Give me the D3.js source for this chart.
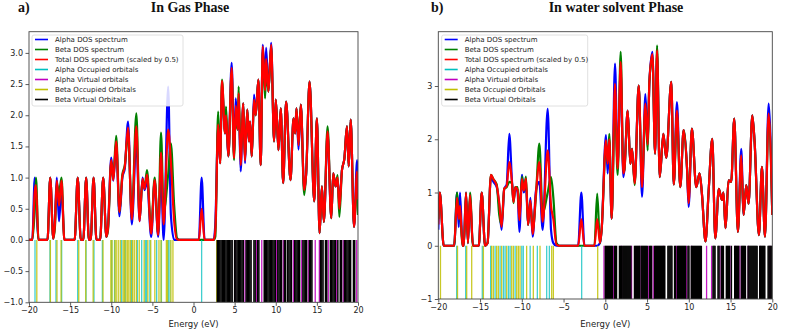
<!DOCTYPE html>
<html><head><meta charset="utf-8">
<script src="https://cdn.jsdelivr.net/npm/d3@7"></script>
<style>body{margin:0;background:#fff}svg{display:block}</style>
</head><body>
<svg id="c" width="789" height="332"></svg>
<script>
// ---------- Panel a) In Gas Phase ----------
const energyA = [-20,-19.6,-19.3,-19.15,-18.85,-17.75,-17.42,-17.05,-16.85,-16.62,-16.35,-16.05,-15.7,-14.45,-14.08,-13.7,-13.4,-13.05,-12.72,-12.5,-12.15,-11.8,-11.35,-10.98,-10.6,-10.4,-10.0,-9.75,-9.4,-9.0,-8.65,-8.35,-7.96,-7.5,-6.95,-6.55,-6.2,-5.95,-5.65,-5.15,-4.72,-4.3,-3.95,-3.63,-3.08,-2.75,-2.35,-2.0,-1.7,0.65,0.99,1.35,2.45,2.65,3.0,3.24,3.46,3.83,3.95,4.24,4.64,4.93,5.13,5.37,5.49,5.73,6.05,6.26,6.54,6.75,6.87,7.08,7.36,7.56,7.89,8.17,8.42,8.7,8.83,9.11,9.44,9.8,10.01,10.33,10.61,10.9,11.26,11.79,12.16,12.36,12.52,12.77,13.05,13.46,13.7,14.11,14.68,15.0,15.33,15.61,15.85,16.3,16.75,16.99,17.28,17.52,17.73,18.05,18.34,18.66,18.87,19.11,19.52,19.89,20.0];
const alphaA = [0,0,1.0,0.7,0,0,1,0.02,0.3,1.0,0.3,0.85,0,0,1,0,0,1,0,0,1,0,0,1,0.05,0.2,1.32,0.95,1.55,0.38,1.0,1.15,1.9,0.25,1.6,0.3,1.0,0.8,0.95,0.05,0.95,0.05,1.05,0.0,2.46,0.4,0.0,0,0,0,1.0,0,0,0.25,1.82,1.23,2.5,1.71,1.9,1.34,2.84,1.35,2.27,1.77,2.25,1.1,2.19,1.23,2.09,1.58,1.9,1.34,2.33,2.0,2.57,1.2,3.13,2.5,3.08,2.38,3.16,1.58,2.25,1.44,2.11,0.91,2.22,0.96,1.95,1.71,2.11,1.45,2.17,0.8,1.07,2.54,0.62,1.95,0.11,0.86,0.29,1.7,0.35,1.07,0.86,0.95,0.6,1.12,1.3,1.82,1.18,1.93,0.21,1.28,0.9];
const betaA = [0,0,0.5,1.0,0,0,1,0.02,0.2,0.9,0.75,1.0,0,0,1,0,0,1,0,0,1,0,0,1,0.05,0.15,1.25,1.0,1.67,0.45,1.05,1.2,1.72,0.4,2.03,0.35,0.95,0.85,1.12,0.15,1.0,0.1,1.72,0.45,1.05,1.55,0.55,0.03,0,0,0,0,0,0.05,2.06,1.23,2.57,1.71,2.14,1.34,2.7,1.28,2.0,1.77,2.46,1.3,2.19,1.3,2.09,1.58,1.9,1.34,2.2,2.0,2.57,1.2,3.05,2.27,2.75,2.38,3.1,1.58,2.25,1.44,2.11,0.91,2.22,0.96,1.95,1.71,2.11,1.58,2.17,0.72,1.07,2.54,0.62,1.95,0.11,0.86,0.29,1.82,0.35,1.07,0.86,1.04,0.37,1.12,1.3,1.82,1.18,1.93,0.21,1.0,0.4];
const totalA = [0,0,0.78,0.88,0,0,1,0.02,0.25,0.95,0.55,0.95,0,0,1,0,0,1,0,0,1,0,0,1,0.05,0.18,1.28,0.96,1.58,0.45,1.02,1.18,1.8,0.33,1.82,0.3,0.98,0.82,1.05,0.1,0.96,0.08,1.4,0.25,1.77,1.25,0.3,0.01,0,0,0.5,0,0,0.15,1.85,1.23,2.55,1.71,2.0,1.34,2.76,1.31,2.15,1.77,2.35,1.2,2.19,1.27,2.09,1.58,1.9,1.34,2.25,2.0,2.57,1.2,3.1,2.4,2.9,2.38,3.13,1.58,2.25,1.44,2.11,0.91,2.22,0.96,1.95,1.71,2.11,1.52,2.17,0.8,1.07,2.54,0.62,1.95,0.11,0.86,0.29,1.74,0.35,1.07,0.86,1.0,0.5,1.12,1.3,1.82,1.18,1.93,0.21,1.1,0.65];
const alphaOccA = [-19.27,-17.45,-16.72,-16.03,-14.08,-13.07,-12.1,-11.08,-9.95,-9.6,-8.73,-8.3,-7.52,-6.83,-6.3,-5.86,-5.7,-5.3,-4.48,-3.9,-3.06,-2.86,0.99];
const betaOccA = [-19.05,-17.4,-16.6,-16.1,-13.95,-13.1,-12.2,-11.0,-10.05,-9.9,-9.55,-9.4,-9.15,-8.9,-8.55,-8.4,-8.2,-8.0,-7.85,-7.65,-7.4,-7.2,-6.95,-6.6,-6.0,-5.55,-5.2,-4.7,-4.2,-3.95,-3.3,-3.15,-2.75,-2.5,2.82];
const alphaVirA = [3.0,5.05,6.26,7.68,8.3,8.69,10.11,10.92,12.14,13.15,13.96,14.8,15.3,16.39,17.41,18.21,19.84];
const betaVirA = [2.9,3.05,3.2,3.35,3.5,3.65,3.8,3.95,4.1,4.25,4.4,4.55,4.7,5.0,5.15,5.3,5.45,5.6,5.75,5.9,6.05,6.4,6.55,6.7,6.85,7.0,7.35,7.5,7.8,7.95,8.6,8.75,8.9,9.05,9.2,9.35,9.5,9.65,9.8,9.95,10.25,10.4,10.55,10.7,11.05,11.2,11.45,11.6,11.75,11.9,12.3,12.45,12.6,12.75,12.9,13.3,13.45,13.6,13.75,14.1,14.25,14.4,15.45,15.6,15.75,16.05,16.2,16.65,16.8,16.95,17.1,17.25,17.55,17.85,18.0,18.35,18.5,18.65,18.8,18.95,19.1,19.45,19.6];
const yTicksA = [-1.0,-0.5,0.0,0.5,1.0,1.5,2.0,2.5,3.0];

// ---------- Panel b) In water solvent Phase ----------
const energyB = [-20,-19.82,-19.35,-18.1,-17.75,-17.55,-17.4,-17.1,-16.95,-16.68,-16.45,-16.2,-15.85,-15.15,-14.8,-14.4,-14.1,-13.7,-13.4,-13.0,-12.7,-12.42,-12.1,-11.81,-11.5,-11.17,-11.0,-10.77,-10.5,-10.29,-9.97,-9.77,-9.5,-9.25,-8.97,-8.7,-8.3,-7.9,-7.5,-6.9,-6.5,-6.22,-5.85,-5.5,-3.25,-2.87,-2.5,-1.3,-0.97,-0.64,-0.44,0.08,0.28,0.48,0.76,1.16,1.48,1.84,2.16,2.28,2.68,3.0,3.2,3.52,4.0,4.4,4.8,5.08,5.28,5.64,5.96,6.2,6.52,6.95,7.3,7.9,8.2,8.58,8.98,9.38,9.78,9.98,10.37,10.89,11.29,11.57,12.0,12.37,12.81,13.17,13.6,13.96,14.15,14.4,14.76,15.08,15.44,15.88,16.28,16.56,16.88,17.16,17.6,17.88,18.4,18.76,19.12,19.56,20.0];
const alphaB = [0.3,1,0,0,1.0,0.35,1.0,0,0,1,0.05,0.9,0,0,1,0,0.05,1.3,1.2,1.1,0.75,0.3,1.07,1.15,2.1,1.2,0.85,1.1,1.0,0.26,1.33,1.0,1.15,0.39,0.9,0.17,1.04,1.2,0.3,2.57,0.3,0.05,0,0,0,1.0,0,0,0,0.05,0.3,2.08,1.36,1.95,0.51,3.42,1.54,3.3,1.29,1.42,2.54,1.54,1.82,1.2,3.01,0.92,2.85,1.95,3.08,3.64,1.73,3.6,1.29,2.1,1.65,3.08,1.15,2.7,1.1,2.17,1.48,0.73,2.2,1.1,1.36,0.98,0.08,1.01,2.01,0.14,1.07,0.86,1.0,0.33,1.23,1.2,2.39,0.26,1.82,0.58,1.14,0.79,2.45,1.95,0.2,1.48,0.17,2.67,0.58];
const betaB = [0.5,1,0,0,1.0,0.6,0.6,0,0,1,0.05,1.0,0,0,1,0,0.05,1.33,1.25,1.15,0.58,0.4,1.07,1.1,1.2,1.17,0.8,1.1,1.1,0.6,1.3,1.04,1.3,0.39,0.8,0.3,0.95,1.92,0.6,1.0,1.29,0.9,0.05,0,0,0,0,0,0.98,0.05,0.3,1.9,1.6,2.1,0.51,2.7,1.33,3.64,1.4,1.42,2.54,1.54,1.82,1.14,3.01,1.2,2.55,1.79,3.08,3.55,1.73,3.76,1.29,2.1,1.65,3.08,1.15,2.45,1.1,2.17,1.48,0.9,2.2,1.1,1.36,0.98,0.08,1.01,2.01,0.14,1.07,0.86,1.0,0.33,1.23,1.2,2.39,0.26,1.6,0.58,1.14,0.79,2.45,1.95,0.2,1.48,0.17,2.4,0.58];
const totalB = [0.4,1,0,0,0.9,0.5,0.75,0,0,1,0.05,0.95,0,0,1,0,0.05,1.33,1.25,1.12,0.8,0.36,1.07,1.12,1.57,1.17,0.82,1.1,1.04,0.48,1.25,1.04,1.26,0.39,0.85,0.22,1.0,1.57,0.45,1.79,0.75,0.5,0.02,0,0,0.5,0,0,0.5,0.05,0.3,1.98,1.54,2.0,0.51,3.04,1.45,3.45,1.36,1.42,2.54,1.54,1.82,1.17,3.01,1.1,2.67,1.9,3.08,3.6,1.73,3.67,1.29,2.1,1.65,3.08,1.15,2.54,1.1,2.17,1.48,0.8,2.2,1.1,1.36,0.98,0.08,1.01,2.01,0.14,1.07,0.86,1.0,0.33,1.23,1.2,2.39,0.26,1.7,0.58,1.14,0.79,2.45,1.95,0.2,1.48,0.17,2.48,0.58];
const alphaOccB = [-17.8,-16.72,-14.73,-13.73,-13.2,-12.6,-12.2,-12.0,-11.6,-11.4,-10.8,-10.0,-9.82,-9.0,-8.14,-7.02,-6.7,-2.83];
const betaOccB = [-19.74,-17.7,-16.6,-16.0,-14.6,-13.61,-13.41,-13.01,-12.81,-12.41,-11.81,-11.21,-11.01,-10.61,-10.41,-10.21,-9.42,-8.62,-7.82,-6.42,-6.22,-0.91];
const alphaVirB = [-0.16,0.96,1.96,3.15,4.15,5.15,5.74,6.94,8.54,9.73,10.33,12.13,12.73,13.73,14.93,15.52,16.12,17.12,18.52,19.72];
const betaVirB = [0.0,0.12,0.24,0.36,0.48,0.6,0.72,0.84,1.1,1.22,1.34,1.7,1.82,1.94,2.1,2.22,2.34,2.46,2.58,2.7,2.82,2.94,3.06,3.5,3.62,3.74,3.86,3.98,4.1,4.3,4.42,4.54,4.66,4.78,4.9,5.02,5.3,5.42,5.54,5.9,6.02,6.14,6.26,6.38,6.5,6.62,6.74,6.86,7.0,7.12,7.5,7.62,7.74,7.86,7.98,8.3,8.42,8.66,8.78,8.9,9.02,9.14,9.26,9.38,9.5,9.62,9.9,10.02,10.3,10.42,10.54,10.66,10.78,10.9,11.02,11.14,11.26,11.38,11.5,12.9,13.02,13.14,13.5,13.62,13.9,14.02,14.14,14.5,14.62,14.74,14.86,15.1,15.5,15.62,15.74,15.86,15.98,16.3,16.42,16.54,16.66,16.78,17.1,17.22,17.34,17.46,17.58,17.7,17.82,17.94,18.06,18.18,18.5,18.62,18.74,18.86,18.98,19.1,19.5,19.62,19.74,19.86,19.98];
const yTicksB = [-1,0,1,2,3];

const xTicks = [-20,-15,-10,-5,0,5,10,15,20];
const legendLabels = ["Alpha DOS spectrum","Beta DOS spectrum","Total DOS spectrum (scaled by 0.5)","Alpha Occupied orbitals","Alpha Virtual orbitals","Beta Occupied Orbitals","Beta Virtual Orbitals"];
const legendColors = ["#0000ff","#008000","#ff0000","#00bfbf","#bf00bf","#bfbf00","#000000"];

const svg = d3.select("#c");
const FONT = "DejaVu Sans, sans-serif";

function panel(o){
  const x = d3.scaleLinear().domain([-20,20]).range([o.left,o.right]);
  const y = d3.scaleLinear().domain([-1,o.ymax]).range([o.bottom,o.top]);
  const g = svg.append("g");
  const cid = "clip"+o.id;
  g.append("clipPath").attr("id",cid).append("rect")
    .attr("x",o.left).attr("y",o.top).attr("width",o.right-o.left).attr("height",o.bottom-o.top);
  const plot = g.append("g").attr("clip-path",`url(#${cid})`);

  const line = (vals)=> d3.line().x((d,i)=>x(o.energy[i])).y(d=>y(d)).curve(d3.curveMonotoneX)(vals);
  [[o.alpha,legendColors[0]],[o.beta,legendColors[1]],[o.total,legendColors[2]]].forEach(([v,c])=>{
    plot.append("path").attr("d",line(v)).attr("fill","none").attr("stroke",c)
      .attr("stroke-width",2.2).attr("stroke-linejoin","round");
  });
  const sticks = (arr,c,w,op)=>{
    plot.append("g").selectAll("line").data(arr).join("line")
      .attr("x1",d=>x(d)).attr("x2",d=>x(d)).attr("y1",y(-1)).attr("y2",y(0))
      .attr("stroke",c).attr("stroke-width",w).attr("stroke-opacity",op);
  };
  sticks(o.aOcc,legendColors[3],1.3,0.75);
  sticks(o.aVir,legendColors[4],1.3,0.9);
  sticks(o.bOcc,legendColors[5],1.3,0.85);
  sticks(o.bVir,legendColors[6],1.5,1);

  // axes
  const xa = g.append("g").attr("transform",`translate(0,${o.bottom})`)
    .call(d3.axisBottom(x).tickValues(xTicks).tickSize(3.5).tickPadding(2).tickFormat(d3.format("d")));
  const ya = g.append("g").attr("transform",`translate(${o.left},0)`)
    .call(d3.axisLeft(y).tickValues(o.yTicks).tickSize(3.5).tickPadding(2.5).tickFormat(o.yfmt));
  [xa,ya].forEach(a=>{
    a.select(".domain").remove();
    a.selectAll("text").attr("font-family",FONT).attr("font-size",8).attr("fill","#222");
    a.selectAll("line").attr("stroke","#333").attr("stroke-width",0.8);
  });
  g.append("rect").attr("x",o.left).attr("y",o.top).attr("width",o.right-o.left).attr("height",o.bottom-o.top)
    .attr("fill","none").attr("stroke","#444").attr("stroke-width",0.9);
  g.append("text").attr("x",(o.left+o.right)/2).attr("y",327).attr("text-anchor","middle")
    .attr("font-family",FONT).attr("font-size",8.5).attr("fill","#222").text("Energy (eV)");

  // legend
  const lg = g.append("g");
  lg.append("rect").attr("x",o.lx).attr("y",o.ly).attr("width",o.lw).attr("height",71).attr("rx",2)
    .attr("fill","#fff").attr("fill-opacity",0.85).attr("stroke","#d8d8d8").attr("stroke-width",0.8);
  legendLabels.forEach((t,i)=>{
    const yy = o.ly+4.5+i*10;
    lg.append("line").attr("x1",o.lx+3).attr("x2",o.lx+16).attr("y1",yy).attr("y2",yy)
      .attr("stroke",legendColors[i]).attr("stroke-width",1.6);
    lg.append("text").attr("x",o.lx+23).attr("y",yy+2.5).attr("font-family",FONT).attr("font-size",7)
      .attr("fill","#222").text(t);
  });

  // titles
  svg.append("text").attr("x",o.tagX).attr("y",12).attr("font-family","Liberation Serif, Times New Roman, serif")
    .attr("font-weight","bold").attr("font-size",14).attr("fill","#111").text(o.tag);
  svg.append("text").attr("x",o.titleX).attr("y",12).attr("text-anchor","middle")
    .attr("font-family","Liberation Serif, Times New Roman, serif")
    .attr("font-weight","bold").attr("font-size",14).attr("fill","#111").text(o.title);
}

panel({id:"a",left:29,right:358,top:31.7,bottom:302.3,ymax:3.34,energy:energyA,alpha:alphaA,beta:betaA,total:totalA,
  aOcc:alphaOccA,bOcc:betaOccA,aVir:alphaVirA,bVir:betaVirA,yTicks:yTicksA,yfmt:d3.format(".1f"),
  lx:32,ly:35,lw:151,tag:"a)",tagX:18,title:"In Gas Phase",titleX:190});
panel({id:"b",left:438.3,right:772.3,top:31.7,bottom:299,ymax:4.02,energy:energyB,alpha:alphaB,beta:betaB,total:totalB,
  aOcc:alphaOccB,bOcc:betaOccB,aVir:alphaVirB,bVir:betaVirB,yTicks:yTicksB,yfmt:d3.format("d"),
  lx:441.7,ly:35,lw:146,tag:"b)",tagX:431,title:"In water solvent Phase",titleX:616});
</script>
</body></html>
